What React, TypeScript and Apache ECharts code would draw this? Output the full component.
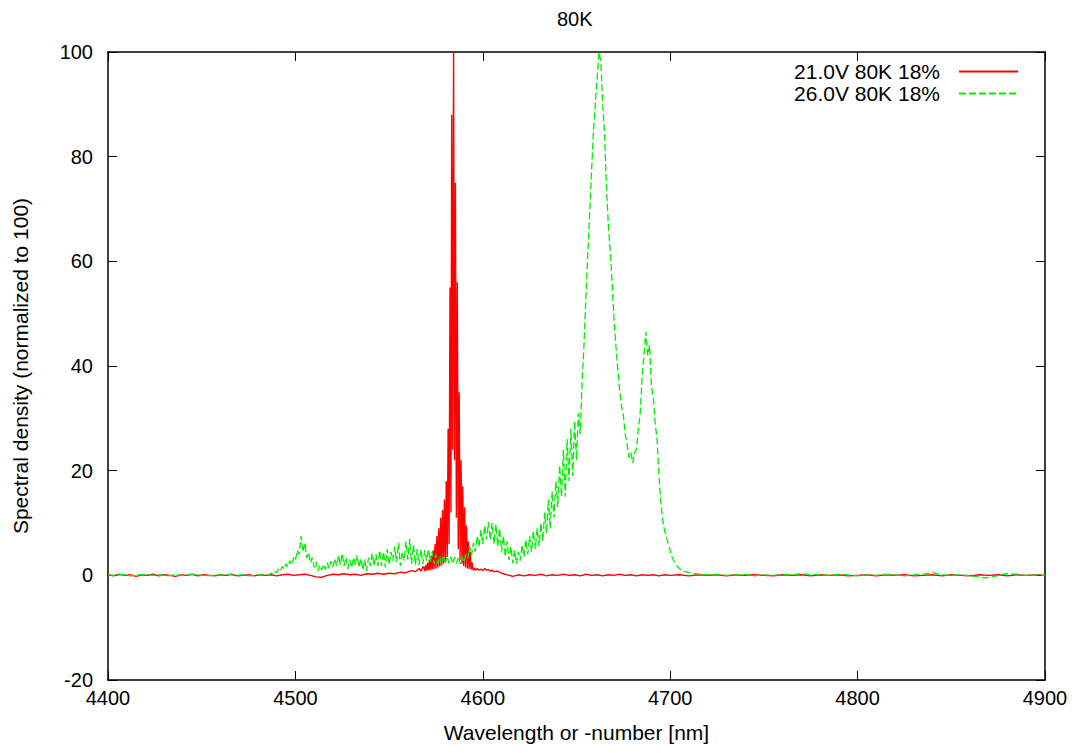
import React, { useEffect, useRef } from "react";
import * as echarts from "echarts";

const chartTitle = "80K";
const xAxisName = "Wavelength or -number [nm]";
const yAxisName = "Spectral density (normalized to 100)";
const seriesNames = ["21.0V 80K 18%", "26.0V 80K 18%"];
const xMin = 4400;
const xMax = 4900;
const xStep = 100;
const yMin = -20;
const yMax = 100;
const yStep = 20;

// 21.0V spectrum: [wavelength, value]
const redSpectrum: [number, number][] = [
  [4400, 0.1], [4403, -0.1], [4406, 0.2], [4409, 0], [4412, 0.1], [4415, -0.2], [4418, 0.1], [4421, 0],
  [4424, 0.2], [4427, -0.1], [4430, 0.1], [4433, 0], [4436, -0.2], [4439, 0.1], [4442, 0], [4445, 0.2],
  [4448, -0.1], [4451, 0.1], [4454, 0], [4457, -0.1], [4460, 0.1], [4463, 0], [4466, 0.2], [4469, -0.1],
  [4472, 0], [4475, 0.1], [4478, -0.1], [4481, 0.1], [4484, 0], [4487, 0.1], [4490, -0.1], [4493, 0.1],
  [4496, 0.2], [4499, 0], [4502, 0.1], [4505, 0.2], [4508, 0], [4511, -0.3], [4514, -0.4], [4517, 0],
  [4520, 0.2], [4523, 0.1], [4526, 0.3], [4529, 0.1], [4532, 0.2], [4535, 0], [4538, 0.3], [4541, 0.2],
  [4544, 0.4], [4547, 0.2], [4550, 0.4], [4553, 0.3], [4556, 0.6], [4559, 0.5], [4562, 0.9], [4564, 0.7],
  [4566, 1.3], [4567, 0.8], [4568, 1.6], [4568.5, 1.6], [4569, 0.8], [4569.5, 1.9], [4570, 0.9], [4570.5, 2.4],
  [4571, 1.0], [4571.5, 3.0], [4572, 1.0], [4572.5, 3.8], [4573, 1.1], [4573.5, 4.8], [4574, 1.2], [4574.5, 6.0],
  [4575, 1.3], [4575.5, 7.5], [4576, 1.5], [4576.5, 9.0], [4577, 1.7], [4577.5, 11], [4578, 1.9], [4578.5, 12.5],
  [4579, 2.2], [4579.5, 14.5], [4580, 2.6], [4580.5, 18], [4581, 3.5], [4581.5, 28], [4582, 6], [4582.5, 55],
  [4583, 12], [4583.4, 88], [4583.9, 24], [4584.4, 100], [4584.9, 22], [4585.4, 75], [4585.9, 11], [4586.4, 56],
  [4586.9, 5], [4587.4, 35], [4587.9, 3], [4588.4, 22], [4588.9, 2.2], [4589.3, 17], [4589.8, 1.8], [4590.3, 13],
  [4590.8, 1.5], [4591.3, 9.5], [4591.8, 1.3], [4592.3, 6.5], [4592.8, 1.2], [4593.3, 4.5], [4593.8, 1.1], [4594.3, 2.5],
  [4594.8, 1.0], [4595.5, 1.4], [4596, 1.0], [4597, 1.3], [4598, 1.0], [4599, 1.2], [4600, 0.9], [4601, 1.3],
  [4602, 1.0], [4603, 1.1], [4604, 0.8], [4605, 1.0], [4606, 0.7], [4608, 0.8], [4610, 0.4], [4613, 0.1],
  [4616, -0.2], [4619, 0.1], [4622, -0.1], [4625, 0.1], [4628, 0], [4631, 0.2], [4634, -0.1], [4637, 0.1],
  [4640, 0], [4643, 0.2], [4646, 0], [4649, 0.1], [4652, -0.1], [4655, 0.2], [4658, 0], [4661, 0.1],
  [4664, -0.1], [4667, 0.1], [4670, 0], [4673, 0.2], [4676, 0], [4679, 0.1], [4682, -0.1], [4685, 0.1],
  [4688, 0], [4691, 0.1], [4694, -0.1], [4697, 0.1], [4700, 0], [4705, 0.1], [4710, -0.1], [4715, 0.1],
  [4720, 0], [4725, 0.1], [4730, -0.1], [4735, 0.1], [4740, 0], [4745, 0.1], [4750, 0], [4755, -0.1],
  [4760, 0.1], [4765, 0], [4770, 0.1], [4775, -0.1], [4780, 0.1], [4785, 0], [4790, 0.1], [4795, -0.1],
  [4800, 0], [4805, 0.1], [4810, -0.1], [4815, 0.1], [4820, 0], [4825, 0.1], [4830, -0.1], [4835, 0],
  [4840, 0.1], [4845, -0.1], [4850, 0.1], [4855, 0], [4860, -0.1], [4865, 0.1], [4870, 0], [4875, 0.1],
  [4880, -0.1], [4885, 0.1], [4890, 0], [4895, 0.1], [4900, 0],
];

// 26.0V spectrum, flat left part: [wavelength, value]
const greenLeft: [number, number][] = [
  [4400, 0.1], [4404, 0], [4408, 0.2], [4412, -0.1], [4416, 0.1], [4420, 0.2], [4424, 0], [4428, 0.1],
  [4432, -0.1], [4436, 0.1], [4440, 0], [4444, 0.2], [4448, 0.1], [4452, -0.1], [4456, 0], [4460, 0.1],
  [4464, 0.2], [4468, 0], [4472, 0.1], [4476, -0.1], [4480, 0.1], [4484, 0.2],
];

// 26.0V spectrum, one value per nm starting at 4485
const greenDenseStart = 4485;
const greenDense: number[] = [
  0.2, 0.1, 0.4, 0.3, 0.8, 0.5, 1.2, 0.8, 1.7, 1.2, // 4485-4494
  2.2, 1.6, 2.8, 2.0, 3.4, 2.8, 4.8, 4.0, 7.5, 4.5, // 4495-4504
  6.2, 3.3, 4.4, 2.4, 3.4, 1.5, 2.6, 0.8, 1.9, 1.0, // 4505-4514
  2.1, 1.1, 2.4, 1.3, 2.7, 1.6, 3.2, 1.8, 3.8, 2.0, // 4515-4524
  4.2, 1.8, 3.4, 1.2, 3.0, 1.5, 3.4, 2.0, 3.8, 1.5, // 4525-4534
  3.2, 1.0, 3.0, 0.8, 3.4, 1.8, 4.2, 1.8, 4.0, 1.8, // 4535-4544
  4.8, 1.8, 4.5, 1.5, 5.0, 2.0, 4.5, 2.8, 5.5, 2.5, // 4545-4554
  6.2, 1.8, 4.5, 2.8, 6.5, 3.0, 7.0, 2.2, 5.8, 2.0, // 4555-4564
  5.0, 2.0, 5.0, 2.2, 4.8, 2.8, 5.0, 2.5, 4.5, 2.2, // 4565-4574
  4.0, 2.3, 3.6, 2.2, 3.5, 2.3, 3.6, 2.3, 3.5, 2.2, // 4575-4584
  3.4, 2.3, 3.5, 2.2, 3.6, 2.5, 4.0, 3.3, 5.5, 3.8, // 4585-4594
  6.2, 4.5, 7.5, 5.5, 8.7, 6.0, 9.5, 6.8, 10.2, 6.8, // 4595-4604
  10.0, 6.0, 9.8, 5.5, 9.0, 4.5, 7.5, 3.5, 6.5, 2.9, // 4605-4614
  5.5, 2.3, 4.8, 2.2, 4.5, 2.8, 5.8, 3.5, 6.8, 4.0, // 4615-4624
  7.5, 4.5, 8.5, 5.0, 9.0, 5.5, 10, 6.5, 12, 8, // 4625-4634
  14.5, 9, 16, 11, 18, 13, 21, 15, 24, 15, // 4635-4644
  26, 18, 28, 19, 29.5, 22, 31, 27, 37, 44, // 4645-4654
  53, 61, 69, 77, 84.5, 90, 95, 100, 98, 90, // 4655-4664
  84, 74, 67, 62, 56, 49, 44, 39.5, 35.5, 32.5, // 4665-4674
  30.5, 27, 25, 22.5, 23.5, 21.5, 23.5, 24, 28, 31, // 4675-4684
  38, 42, 46.5, 42, 44, 36, 34, 29, 26, 19, // 4685-4694
  14, 10.6, 8.5, 7.3, 6, 4.8, 3.5, 2.7, 2.1, 1.6, // 4695-4704
  1.3, 1.0, 0.8, 0.7, // 4705-4708
];

// 26.0V spectrum, flat right part: [wavelength, value]
const greenRight: [number, number][] = [
  [4710, 0.5], [4712, 0.4], [4716, 0.2], [4720, 0.1], [4725, 0.2], [4730, 0], [4735, 0.1], [4740, 0.2],
  [4745, -0.1], [4750, 0.1], [4755, 0], [4760, 0.2], [4765, 0.1], [4770, 0.3], [4775, 0.1], [4780, 0.2],
  [4785, 0], [4790, 0.2], [4795, 0.1], [4800, -0.1], [4805, 0.1], [4810, 0], [4815, 0.2], [4820, 0.1],
  [4825, -0.1], [4830, 0.1], [4835, 0.2], [4838, 0.4], [4840, 0.6], [4842, 0.3], [4845, 0.1], [4850, 0],
  [4855, 0.1], [4860, -0.1], [4865, -0.3], [4868, -0.5], [4872, -0.3], [4876, 0.1], [4880, 0.3], [4885, 0.2],
  [4890, 0], [4895, 0.1], [4900, 0],
];

const FONT = "'Liberation Sans', Arial, Helvetica, sans-serif";
const RED = "#ff0000";
const GREEN = "#00ee00";

export default function App() {
  const ref = useRef<HTMLDivElement>(null);

  useEffect(() => {
    if (!ref.current) return;
    const chart = echarts.init(ref.current, undefined, { renderer: "svg" });

    const greenSpectrum: [number, number][] = [
      ...greenLeft,
      ...greenDense.map((v, i) => [greenDenseStart + i, v] as [number, number]),
      ...greenRight,
    ];

    const axisLine = { show: true, onZero: false, lineStyle: { color: "#000", width: 1.5 } };
    const tick = { show: true, inside: true, length: 9, lineStyle: { color: "#000", width: 1 } };
    const labelStyle = { color: "#000", fontSize: 20, fontFamily: FONT };

    const xBase = {
      type: "value" as const,
      min: xMin,
      max: xMax,
      interval: xStep,
      axisLine,
      axisTick: tick,
      splitLine: { show: false },
    };
    const yBase = {
      type: "value" as const,
      min: yMin,
      max: yMax,
      interval: yStep,
      axisLine,
      axisTick: tick,
      splitLine: { show: false },
    };

    chart.setOption({
      animation: false,
      backgroundColor: "#fff",
      title: {
        text: chartTitle,
        left: 557,
        top: 9,
        padding: 0,
        textStyle: { color: "#000", fontSize: 20, fontWeight: "normal", fontFamily: FONT },
      },
      legend: {
        orient: "vertical",
        right: 60,
        top: 61,
        padding: 0,
        align: "right",
        itemWidth: 59,
        itemHeight: 14,
        itemGap: 1,
        itemStyle: { opacity: 0 },
        textStyle: { color: "#000", fontSize: 21, fontFamily: FONT, padding: [0, 14, 0, 0] },
        data: seriesNames,
      },
      grid: { left: 108, right: 34, top: 52, bottom: 73, containLabel: false },
      xAxis: [
        {
          ...xBase,
          position: "bottom",
          name: xAxisName,
          nameLocation: "middle",
          nameGap: 42,
          nameTextStyle: { ...labelStyle, fontSize: 21 },
          axisLabel: { ...labelStyle, margin: 8, formatter: (v: number) => String(v) },
        },
        { ...xBase, position: "top", axisLabel: { show: false } },
      ],
      yAxis: [
        {
          ...yBase,
          position: "left",
          name: yAxisName,
          nameLocation: "middle",
          nameGap: 77,
          nameRotate: 90,
          nameTextStyle: { ...labelStyle, fontSize: 21 },
          axisLabel: { ...labelStyle, margin: 15, formatter: (v: number) => String(v) },
        },
        { ...yBase, position: "right", axisLabel: { show: false } },
      ],
      series: [
        {
          name: seriesNames[0],
          type: "line",
          data: redSpectrum,
          symbol: "none",
          xAxisIndex: 0,
          yAxisIndex: 0,
          lineStyle: { color: RED, width: 1.4 },
          itemStyle: { color: RED },
        },
        {
          name: seriesNames[1],
          type: "line",
          data: greenSpectrum,
          symbol: "none",
          xAxisIndex: 0,
          yAxisIndex: 0,
          lineStyle: { color: GREEN, width: 1.3, type: [7, 3] },
          itemStyle: { color: GREEN },
        },
      ],
    });

    return () => chart.dispose();
  }, []);

  return (
    <div
      ref={ref}
      style={{ position: "absolute", left: 0, top: 0, width: 1079, height: 753, background: "#fff" }}
    />
  );
}
